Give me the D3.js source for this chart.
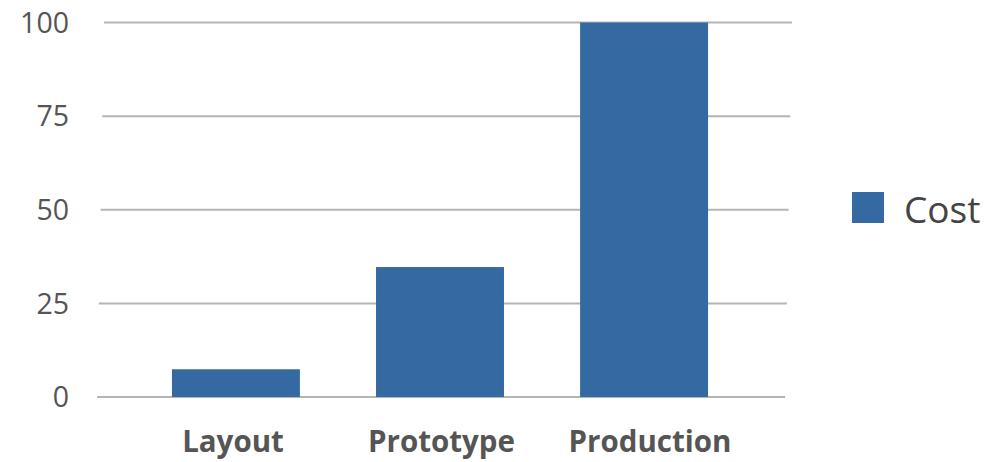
<!DOCTYPE html>
<html>
<head>
<meta charset="utf-8" />
<script src="https://d3js.org/d3.v7.min.js"></script>
<style>
  body { margin: 0; background: #fff; }
  text { font-family: "Open Sans", sans-serif; }
</style>
</head>
<body>
<div id="chart"></div>
<script>
  // chart data
  const categories = ["Layout", "Prototype", "Production"];
  const costValues = [7.4, 34.7, 100];
  const yTicks = [0, 25, 50, 75, 100];
  const seriesName = "Cost";

  const width = 992, height = 462;
  const barColor = "#3569a1";

  const svg = d3.select("#chart").append("svg")
      .attr("width", width)
      .attr("height", height);

  const y = d3.scaleLinear().domain([0, 100]).range([397, 22.5]);
  const x = d3.scaleBand().domain(categories).range([134, 746]).paddingInner(0.373).paddingOuter(0.186);
  // the labels sit a little wider apart than the bars
  const xLabel = d3.scalePoint().domain(categories).range([233, 650]);

  // gridlines, slightly leaning as in the original
  const grid = svg.append("g")
      .attr("transform", "translate(0,22.5) skewX(-1.05) translate(0,-22.5)");
  grid.selectAll("line")
    .data(yTicks)
    .enter().append("line")
      .attr("x1", 104)
      .attr("x2", 792)
      .attr("y1", d => y(d))
      .attr("y2", d => y(d))
      .attr("stroke", "#b5b5b5")
      .attr("stroke-width", 2);

  // y labels
  svg.append("g").selectAll("text")
    .data(yTicks)
    .enter().append("text")
      .attr("x", 69)
      .attr("y", d => y(d))
      .attr("dy", "0.36em")
      .attr("text-anchor", "end")
      .attr("font-size", 28.5)
      .attr("fill", "#555")
      .text(d => d);

  // bars
  svg.append("g").selectAll("rect")
    .data(categories)
    .enter().append("rect")
      .attr("x", d => x(d))
      .attr("width", x.bandwidth())
      .attr("y", (d, i) => y(costValues[i]))
      .attr("height", (d, i) => y(0) - y(costValues[i]))
      .attr("fill", barColor);

  // category labels
  svg.append("g").selectAll("text")
    .data(categories)
    .enter().append("text")
      .attr("x", d => xLabel(d))
      .attr("y", 452)
      .attr("text-anchor", "middle")
      .attr("font-size", 29.5)
      .attr("font-weight", "bold")
      .attr("fill", "#555")
      .text(d => d);

  // legend
  const legend = svg.append("g");
  legend.append("rect")
      .attr("x", 852).attr("y", 192)
      .attr("width", 32).attr("height", 31)
      .attr("fill", barColor);
  legend.append("text")
      .attr("x", 904).attr("y", 223)
      .attr("font-size", 37)
      .attr("fill", "#444")
      .text(seriesName);
</script>
</body>
</html>
